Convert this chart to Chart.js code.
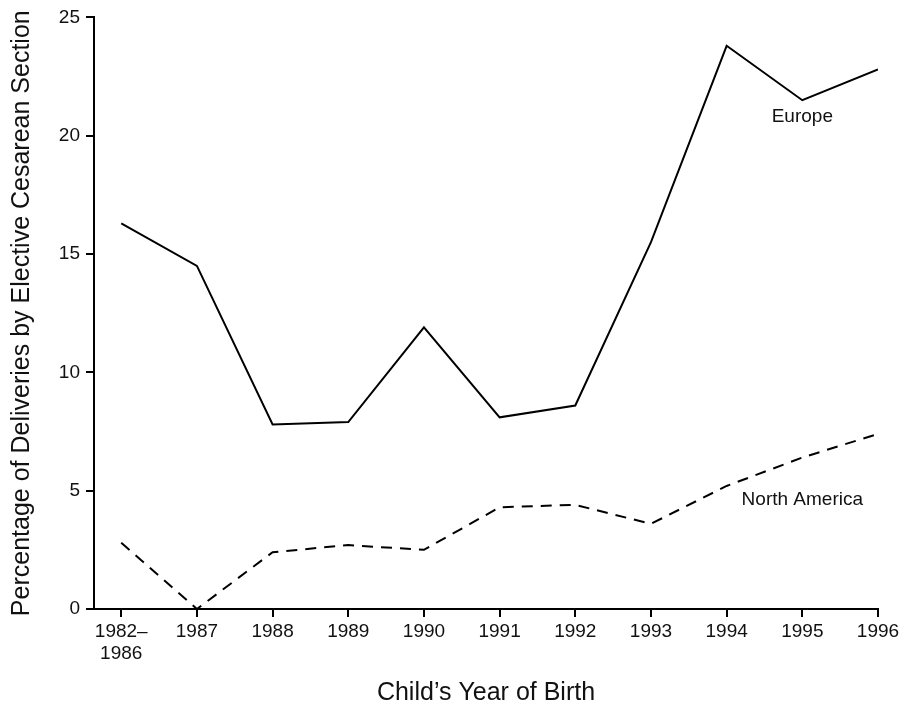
<!DOCTYPE html>
<html>
<head>
<meta charset="utf-8">
<script src="https://cdn.jsdelivr.net/npm/chart.js@4/dist/chart.umd.min.js"></script>
<style>
  html, body { margin: 0; padding: 0; background: #fff; }
  #wrap { width: 904px; height: 708px; }
</style>
</head>
<body>
<div id="wrap"><canvas id="c" width="904" height="708"></canvas></div>
<script>
// category labels along the x axis
const years = [["1982–", "1986"], "1987", "1988", "1989", "1990", "1991", "1992", "1993", "1994", "1995", "1996"];
// percentage of deliveries by elective cesarean section
const europe = [16.3, 14.5, 7.8, 7.9, 11.9, 8.1, 8.6, 15.5, 23.8, 21.5, 22.8];
const northAmerica = [2.8, 0.0, 2.4, 2.7, 2.5, 4.3, 4.4, 3.6, 5.2, 6.4, 7.4];
const yTicks = [0, 5, 10, 15, 20, 25];

const FONT = "'Liberation Sans', Arial, Helvetica, sans-serif";
const toXY = arr => arr.map((v, i) => ({ x: i, y: v }));

// series names written next to the lines
const seriesLabels = {
  id: "seriesLabels",
  afterDatasetsDraw(chart) {
    const { ctx, scales: { x, y } } = chart;
    ctx.save();
    ctx.fillStyle = "#111";
    ctx.font = "19px " + FONT;
    ctx.textAlign = "center";
    ctx.textBaseline = "middle";
    ctx.fillText("Europe", x.getPixelForValue(9), y.getPixelForValue(europe[9]) + 17);
    ctx.fillText("North America", x.getPixelForValue(9), y.getPixelForValue(northAmerica[9]) + 42);
    ctx.restore();
  }
};

new Chart(document.getElementById("c").getContext("2d"), {
  type: "line",
  data: {
    datasets: [
      { label: "Europe", data: toXY(europe), borderColor: "#000", borderWidth: 2, pointRadius: 0, tension: 0 },
      { label: "North America", data: toXY(northAmerica), borderColor: "#000", borderWidth: 2, borderDash: [11, 8], pointRadius: 0, tension: 0 }
    ]
  },
  options: {
    responsive: false,
    animation: false,
    layout: { padding: { top: 16, right: 26, left: 0, bottom: 0 } },
    plugins: { legend: { display: false }, tooltip: { enabled: false } },
    scales: {
      x: {
        type: "linear",
        min: -0.36,
        max: 10,
        afterFit: s => { s.height = 99; },
        afterBuildTicks: s => { s.ticks = years.map((_, i) => ({ value: i })); },
        ticks: {
          callback: (v) => years[v],
          color: "#111",
          font: { family: FONT, size: 19, lineHeight: 1.2 },
          padding: 3,
          maxRotation: 0,
          autoSkip: false
        },
        grid: { drawOnChartArea: false, drawTicks: true, tickLength: 8, color: "#000", lineWidth: 2 },
        border: { color: "#000", width: 2 },
        title: { display: true, text: "Child’s Year of Birth", color: "#111", font: { family: FONT, size: 25 }, padding: { top: 0, bottom: 0 } }
      },
      y: {
        min: 0,
        max: 25,
        afterFit: s => { s.width = 94; },
        afterBuildTicks: s => { s.ticks = yTicks.map(v => ({ value: v })); },
        ticks: {
          color: "#111",
          font: { family: FONT, size: 19 },
          padding: 6
        },
        grid: { drawOnChartArea: false, drawTicks: true, tickLength: 8, color: "#000", lineWidth: 2 },
        border: { color: "#000", width: 2 },
        title: { display: true, text: "Percentage of Deliveries by Elective Cesarean Section", color: "#111", font: { family: FONT, size: 25 }, padding: { top: 7, bottom: 0 } }
      }
    }
  },
  plugins: [seriesLabels]
});
</script>
</body>
</html>
